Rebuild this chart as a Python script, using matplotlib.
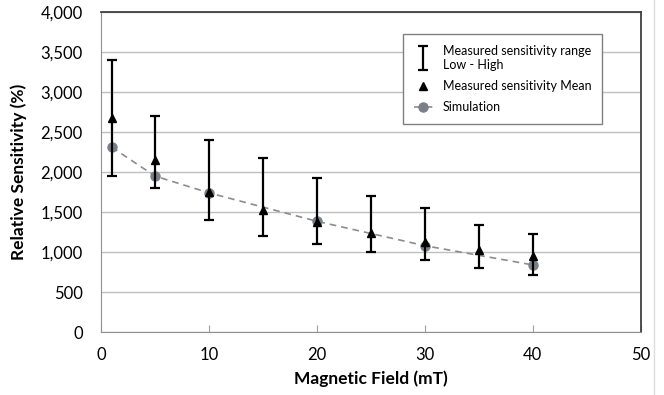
import matplotlib.pyplot as plt
from matplotlib.legend_handler import HandlerErrorbar
import numpy as np

plt.rcParams['font.family'] = ['Lato', 'DejaVu Sans']

# data
field = [1, 5, 10, 15, 20, 25, 30, 35, 40]
sens_low = [1950, 1800, 1400, 1200, 1100, 1000, 900, 800, 720]
sens_high = [3400, 2700, 2400, 2180, 1925, 1700, 1550, 1340, 1220]
sens_mean = [2670, 2150, 1750, 1530, 1380, 1240, 1130, 1030, 950]

sim_field = [1, 5, 10, 20, 30, 40]
simulation = [2310, 1950, 1740, 1385, 1080, 840]

y_ticks = [0, 500, 1000, 1500, 2000, 2500, 3000, 3500, 4000]
x_ticks = [0, 10, 20, 30, 40, 50]

fig = plt.figure(figsize=(6.64, 3.95), dpi=100)
ax = fig.add_axes([0.152, 0.159, 0.813, 0.811])

low = np.array(sens_low)
high = np.array(sens_high)
mid = (low + high) / 2
ax.errorbar(field, mid, yerr=[mid - low, high - mid], fmt='none',
            ecolor='black', elinewidth=1.6, capsize=3.8, capthick=1.6,
            label='Measured sensitivity range\nLow - High', zorder=3)
ax.plot(sim_field, simulation, linestyle=(0, (4, 3)), color='#8c8c8c', lw=1.2,
        marker='o', markersize=6.5, markerfacecolor='#7a7f88',
        markeredgecolor='#7a7f88', label='Simulation', zorder=2)
ax.plot(field, sens_mean, linestyle='none', marker='^', color='black',
        markersize=6, label='Measured sensitivity Mean', zorder=4)

ax.set_xlim(0, 50)
ax.set_ylim(0, 4000)
ax.set_xticks(x_ticks)
ax.set_yticks(y_ticks)
ax.set_yticklabels([f'{v:,}' for v in y_ticks])
ax.tick_params(axis='y', length=0, labelsize=12, pad=13)
ax.tick_params(axis='x', direction='in', length=5, color='#a0a0a0',
               labelsize=12, pad=11)
ax.grid(axis='y', color='#bfbfbf', lw=1)
ax.set_axisbelow(True)

for side in ['left', 'bottom']:
    ax.spines[side].set_color('#909090')
for side in ['right', 'top']:
    ax.spines[side].set_color('#404040')
    ax.spines[side].set_linewidth(1.3)

ax.set_xlabel('Magnetic Field (mT)', fontsize=12.5, fontweight='bold', labelpad=5)
ax.set_ylabel('Relative Sensitivity (%)', fontsize=12.5, fontweight='bold')
ax.yaxis.set_label_coords(-0.137, 0.5)

handles, labels = ax.get_legend_handles_labels()
order = [labels.index('Measured sensitivity range\nLow - High'),
         labels.index('Measured sensitivity Mean'),
         labels.index('Simulation')]
leg = ax.legend([handles[i] for i in order], [labels[i] for i in order],
                loc='upper right', bbox_to_anchor=(0.94, 0.95), fontsize=9,
                fancybox=False, framealpha=1, edgecolor='#808080',
                handlelength=1.5, borderpad=0.85, labelspacing=0.75,
                handler_map={type(handles[order[0]]): HandlerErrorbar(yerr_size=0.95)})
leg.get_frame().set_linewidth(1)

fig.add_artist(plt.Line2D([0.985, 0.985], [0, 1], color='#dddddd', lw=1))

fig.savefig('out.png', dpi=100)
